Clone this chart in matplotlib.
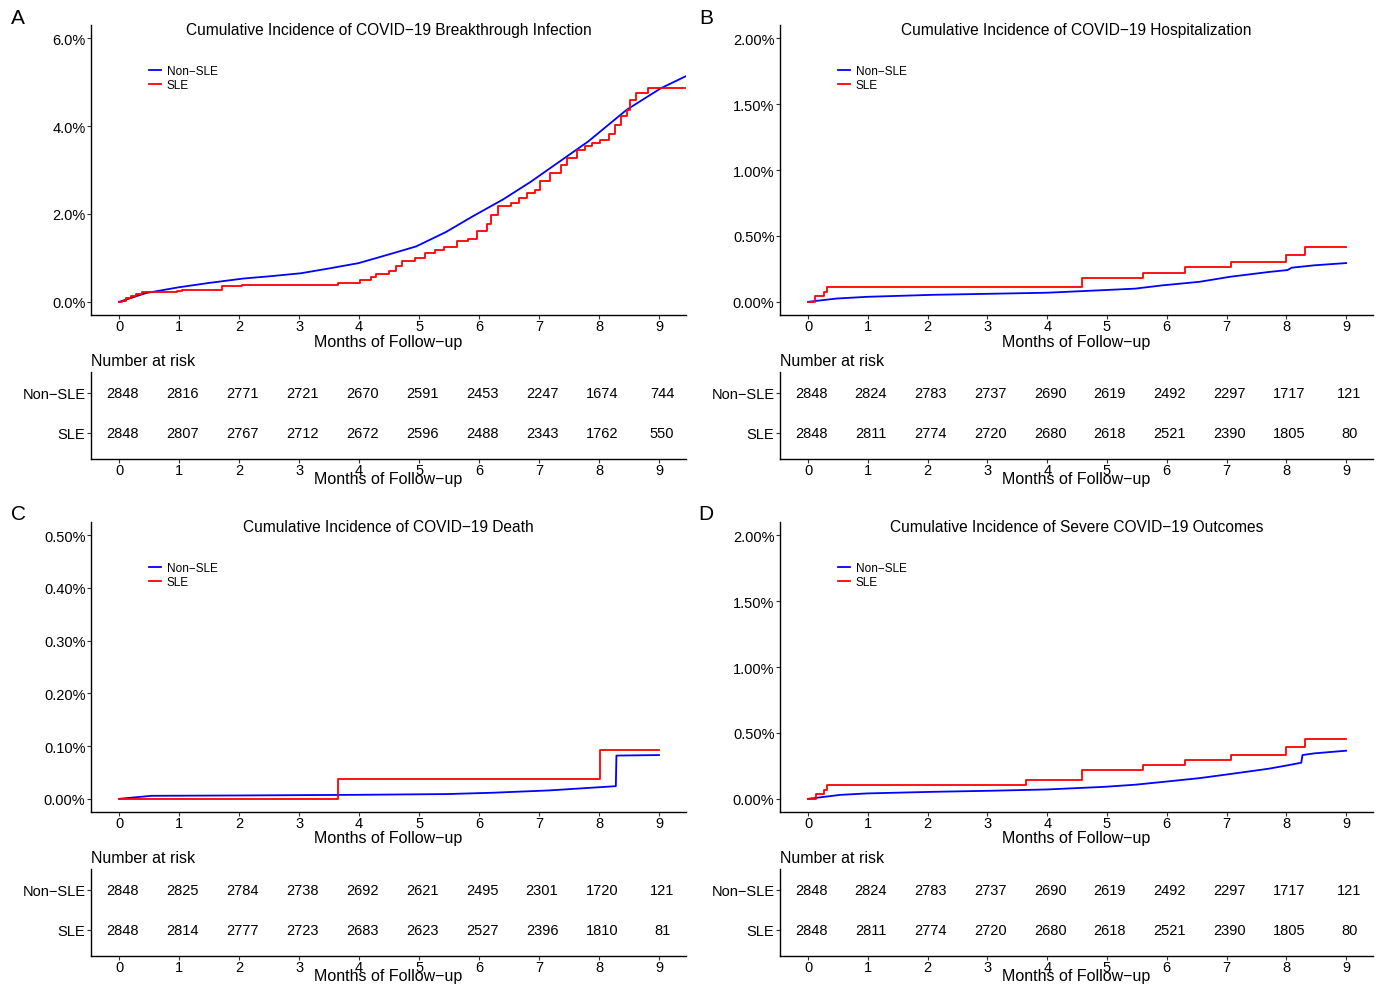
import numpy as np
import matplotlib.pyplot as plt
from matplotlib.ticker import FuncFormatter

plt.rcParams['font.family'] = ['Liberation Sans', 'DejaVu Sans']

# ---- data (cumulative incidence in %, time in months) ----
months = np.arange(0, 10)

# A: breakthrough infection
nonsle_a_t = [0, 0.45, 0.99, 1.5, 2.07, 2.5, 3.03, 3.5, 3.99, 4.5, 4.95, 5.45, 5.90, 6.4, 6.86, 7.35, 7.82, 8.46, 9.03, 9.44]
nonsle_a_v = [0, 0.20, 0.33, 0.43, 0.53, 0.58, 0.65, 0.76, 0.88, 1.08, 1.26, 1.59, 1.95, 2.33, 2.73, 3.20, 3.65, 4.37, 4.86, 5.13]
sle_a_t = [0, 0.05, 0.12, 0.20, 0.28, 0.38, 0.96, 1.05, 1.72, 2.05, 3.64, 4.02, 4.20, 4.28, 4.50, 4.62,
           4.72, 4.93, 5.10, 5.26, 5.42, 5.63, 5.81, 5.97, 6.13, 6.20, 6.32, 6.54, 6.66, 6.80, 6.93, 7.02,
           7.18, 7.37, 7.47, 7.63, 7.76, 7.88, 8.01, 8.17, 8.26, 8.36, 8.46, 8.52, 8.62, 8.81, 9.44]
sle_a_v = [0, 0.03, 0.08, 0.13, 0.18, 0.22, 0.25, 0.28, 0.35, 0.39, 0.43, 0.49, 0.56, 0.64, 0.71, 0.81,
           0.92, 1.00, 1.10, 1.19, 1.25, 1.38, 1.44, 1.61, 1.76, 1.98, 2.17, 2.25, 2.36, 2.48, 2.55, 2.74,
           2.93, 3.12, 3.27, 3.46, 3.55, 3.61, 3.69, 3.82, 4.03, 4.22, 4.37, 4.60, 4.75, 4.86, 4.86]

# B: hospitalization
nonsle_b_t = [0, 0.48, 0.99, 2.08, 3.04, 4.0, 4.96, 5.47, 5.91, 6.55, 7.06, 7.70, 8.02, 8.09, 8.47, 9.0]
nonsle_b_v = [0, 0.025, 0.038, 0.053, 0.061, 0.069, 0.089, 0.100, 0.124, 0.152, 0.190, 0.226, 0.241, 0.259, 0.277, 0.294]
sle_b_t = [0, 0.12, 0.26, 0.32, 4.59, 5.61, 6.30, 7.08, 8.00, 8.31, 9.0]
sle_b_v = [0, 0.041, 0.074, 0.109, 0.183, 0.221, 0.264, 0.302, 0.355, 0.419, 0.419]

# C: death
nonsle_c_t = [0, 0.54, 2.07, 3.99, 5.46, 6.22, 7.18, 8.28, 8.29, 9.0]
nonsle_c_v = [0, 0.0057, 0.0064, 0.0076, 0.009, 0.0115, 0.016, 0.024, 0.082, 0.083]
sle_c_t = [0, 3.64, 8.01, 9.0]
sle_c_v = [0, 0.037, 0.093, 0.093]

# D: severe outcomes
nonsle_d_t = [0, 0.54, 0.99, 2.08, 3.04, 4.0, 4.96, 5.47, 5.91, 6.55, 7.06, 7.70, 8.02, 8.25, 8.27, 8.47, 9.0]
nonsle_d_v = [0, 0.030, 0.041, 0.053, 0.061, 0.071, 0.091, 0.107, 0.127, 0.157, 0.188, 0.228, 0.254, 0.274, 0.332, 0.345, 0.365]
sle_d_t = [0, 0.13, 0.27, 0.32, 3.64, 4.59, 5.61, 6.30, 7.08, 8.00, 8.31, 9.0]
sle_d_v = [0, 0.036, 0.069, 0.107, 0.145, 0.218, 0.256, 0.297, 0.335, 0.393, 0.454, 0.454]

# numbers at risk
risk_a_nonsle = [2848, 2816, 2771, 2721, 2670, 2591, 2453, 2247, 1674, 744]
risk_a_sle = [2848, 2807, 2767, 2712, 2672, 2596, 2488, 2343, 1762, 550]
risk_b_nonsle = [2848, 2824, 2783, 2737, 2690, 2619, 2492, 2297, 1717, 121]
risk_b_sle = [2848, 2811, 2774, 2720, 2680, 2618, 2521, 2390, 1805, 80]
risk_c_nonsle = [2848, 2825, 2784, 2738, 2692, 2621, 2495, 2301, 1720, 121]
risk_c_sle = [2848, 2814, 2777, 2723, 2683, 2623, 2527, 2396, 1810, 81]
risk_d_nonsle = risk_b_nonsle
risk_d_sle = risk_b_sle

titles = ['Cumulative Incidence of COVID\u221219 Breakthrough Infection',
          'Cumulative Incidence of COVID\u221219 Hospitalization',
          'Cumulative Incidence of COVID\u221219 Death',
          'Cumulative Incidence of Severe COVID\u221219 Outcomes']
letters = ['A', 'B', 'C', 'D']
yticks_list = [[0, 2, 4, 6], [0, 0.5, 1.0, 1.5, 2.0],
               [0, 0.1, 0.2, 0.3, 0.4, 0.5], [0, 0.5, 1.0, 1.5, 2.0]]
ydec = [1, 2, 2, 2]

W, H = 1380, 987
fig = plt.figure(figsize=(W / 100, H / 100), dpi=100)


def box(l, t, r, b):
    return [l / W, 1 - b / H, (r - l) / W, (b - t) / H]


BLUE = '#0000FF'
RED = '#FF0000'
xlab = 'Months of Follow\u2212up'

panels = [
    (nonsle_a_t, nonsle_a_v, sle_a_t, sle_a_v, risk_a_nonsle, risk_a_sle),
    (nonsle_b_t, nonsle_b_v, sle_b_t, sle_b_v, risk_b_nonsle, risk_b_sle),
    (nonsle_c_t, nonsle_c_v, sle_c_t, sle_c_v, risk_c_nonsle, risk_c_sle),
    (nonsle_d_t, nonsle_d_v, sle_d_t, sle_d_v, risk_d_nonsle, risk_d_sle),
]
lefts = [91, 780, 91, 780]
rights = [686, 1373, 686, 1373]
offs = [0, 0, 497, 497]


def style(ax):
    for s in ['top', 'right']:
        ax.spines[s].set_visible(False)
    for s in ['left', 'bottom']:
        ax.spines[s].set_linewidth(1.0)
        ax.spines[s].set_color('black')
    ax.tick_params(length=3, width=0.8, color='#333333', labelcolor='black', labelsize=10.5, pad=1)


for i, (nt, nv, st, sv, rn, rs) in enumerate(panels):
    l, r, o = lefts[i], rights[i], offs[i]
    ymax = yticks_list[i][-1]

    ax = fig.add_axes(box(l, 26 + o, r, 316 + o))
    ax.plot(nt, nv, color=BLUE, lw=1.3, label='Non\u2212SLE')
    ax.step(st, sv, where='post', color=RED, lw=1.3, label='SLE')
    ax.set_xlim(-0.47, 9.45)
    ax.set_ylim(-0.05 * ymax, 1.05 * ymax)
    ax.set_xticks(months)
    ax.set_yticks(yticks_list[i])
    d = ydec[i]
    ax.yaxis.set_major_formatter(FuncFormatter(lambda v, p, d=d: f'{v:.{d}f}%'))
    style(ax)
    ax.tick_params(axis='x', pad=0)
    ax.set_xlabel(xlab, fontsize=11.5)
    ax.xaxis.set_label_coords(0.5, -(342 - 316) / 290)
    ax.xaxis.label.set_va('center')
    ax.legend(loc='upper left', bbox_to_anchor=((149 - 91) / (r - l), (316 - 66) / 290),
              frameon=False, fontsize=8.5, handlelength=1.0, handletextpad=0.5,
              labelspacing=0.15, borderpad=0, borderaxespad=0)
    fig.text((l + r) / 2 / W, 1 - (31 + o) / H, titles[i], ha='center', va='center', fontsize=11.2)
    fig.text((18 if l < 500 else 706) / W, 1 - (18 + o) / H, letters[i], ha='center', va='center',
             fontsize=15)

    # risk table
    rt = fig.add_axes(box(l, 373 + o, r, 460 + o))
    rt.set_xlim(-0.47, 9.45)
    rt.set_ylim(-0.65, 1.525)
    for m, n1, n2 in zip(months, rn, rs):
        rt.text(m + 0.05, 1, str(n1), ha='center', va='center', fontsize=10.5,
                family=['Liberation Sans Narrow', 'Liberation Sans'])
        rt.text(m + 0.05, 0, str(n2), ha='center', va='center', fontsize=10.5,
                family=['Liberation Sans Narrow', 'Liberation Sans'])
    rt.set_xticks(months)
    rt.set_yticks([1, 0])
    rt.set_yticklabels(['Non\u2212SLE', 'SLE'])
    style(rt)
    rt.tick_params(axis='x', pad=0)
    rt.tick_params(axis='y', labelsize=10.5)
    rt.set_xlabel(xlab, fontsize=11.5)
    rt.xaxis.set_label_coords(0.5, -(480 - 460) / 87)
    rt.xaxis.label.set_va('center')
    rt.set_title('Number at risk', loc='left', fontsize=11.5, pad=5)

fig.savefig('out.png', dpi=100)
